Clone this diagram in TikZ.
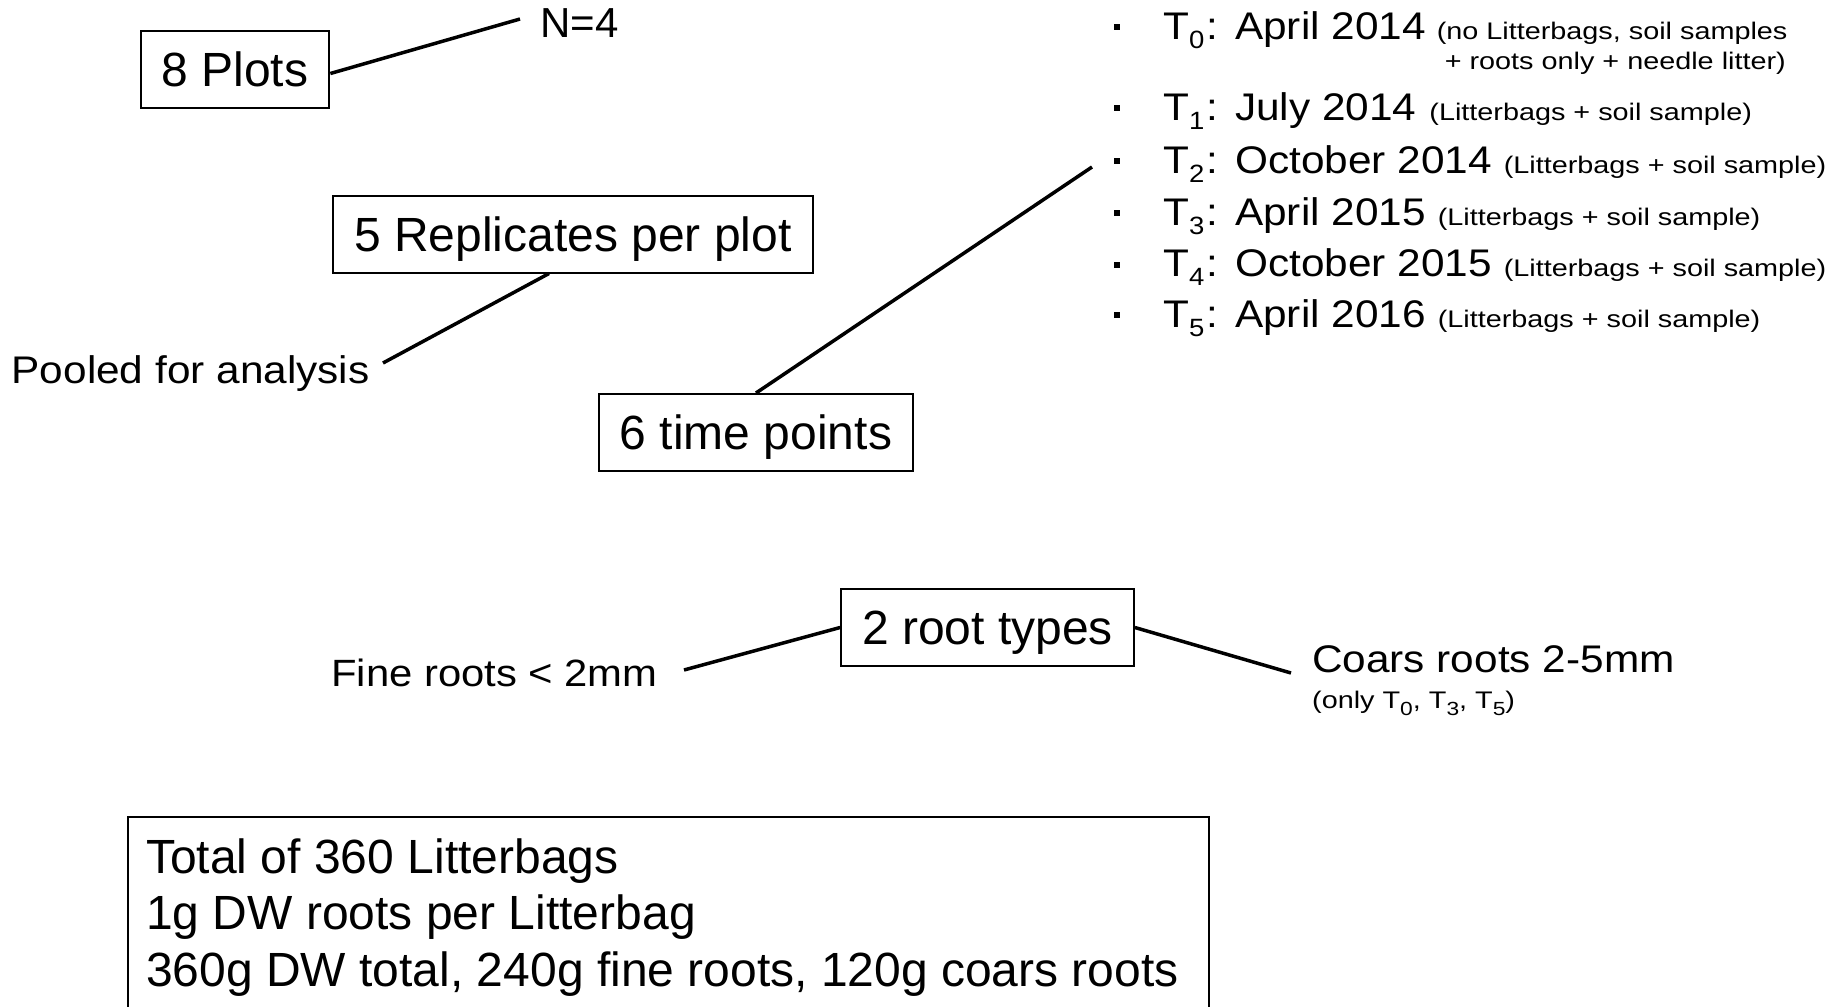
\documentclass[tikz,border=0pt]{standalone}
\usepackage{fontspec}
\setmainfont{Liberation Sans}
\newfontfamily\labfont{Liberation Sans}[FakeStretch=1.1]
\newfontfamily\smlfont{Liberation Sans}[FakeStretch=1.2]
\newcommand{\tsub}[3]{\raisebox{-#1}{\fontsize{#2}{#2}\selectfont #3}}
\newcommand{\smtext}{\smlfont\fontsize{24}{28}\selectfont}
\newcommand{\tpt}[1]{T\tsub{9pt}{25}{#1}\hspace{2pt}:\hspace{17pt}}
\begin{document}
\begin{tikzpicture}[x=1pt,y=-1pt,
  box/.style={draw,line width=2pt,minimum height=77pt,text height=34pt,text depth=0pt,inner xsep=21pt,font=\fontsize{48}{56}\selectfont},
  conn/.style={line width=3.5pt},
  lab/.style={inner sep=0pt,anchor=base west,font=\labfont\fontsize{38.5}{46}\selectfont},
  big/.style={inner sep=0pt,anchor=base west,font=\fontsize{48}{56}\selectfont},
  sml/.style={inner sep=0pt,font=\smtext},
  blt/.style={fill,draw=none,inner sep=0pt,minimum size=6pt}]
\path[use as bounding box] (0,0) rectangle (1848,1007);
\clip (0,0) rectangle (1848,1007);

% 8 plots
\node[box] (plots) at (235,69.5) {8 Plots};
\node[inner sep=0pt,anchor=base west,font=\fontsize{42}{50}\selectfont] (n4) at (540,37) {N=4};
\coordinate (n4end) at (520,19);
\draw[conn] ([yshift=-4pt]plots.east) -- (n4end);

% replicates
\node[box] (rep) at (573,234) {5 Replicates per plot};
\node[lab] (pool) at (11.5,383) {Pooled for analysis};
\coordinate (poolend) at (383,363);
\draw[conn] ([xshift=-24pt]rep.south) -- (poolend);

% time points
\node[box] (tp) at (756,432.5) {6 time points};
\coordinate (tpend) at (1092,167);
\draw[conn] (tp.north) -- (tpend);

% list of time points
\node[blt] (b0) at (1117,27) {};
\node[blt] (b1) at (1117,108) {};
\node[blt] (b2) at (1117,161) {};
\node[blt] (b3) at (1117,213) {};
\node[blt] (b4) at (1117,264.5) {};
\node[blt] (b5) at (1117,315) {};
\node[lab] (t0) at (1163,39) {\tpt{0}April 2014\hspace{11pt}{\smtext(no Litterbags, soil samples}};
\node[sml,anchor=base east] (t0b) at (1786,69) {+ roots only + needle litter)};
\node[lab] (t1) at (1163,120) {\tpt{1}July 2014\hspace{13pt}{\smtext(Litterbags + soil sample)}};
\node[lab] (t2) at (1163,173) {\tpt{2}October 2014\hspace{12pt}{\smtext(Litterbags + soil sample)}};
\node[lab] (t3) at (1163,225) {\tpt{3}April 2015\hspace{12pt}{\smtext(Litterbags + soil sample)}};
\node[lab] (t4) at (1163,276.5) {\tpt{4}October 2015\hspace{12pt}{\smtext(Litterbags + soil sample)}};
\node[lab] (t5) at (1163,327) {\tpt{5}April 2016\hspace{12pt}{\smtext(Litterbags + soil sample)}};

% root types
\node[box] (rt) at (987.5,627.5) {2 root types};
\node[lab,font=\labfont\fontsize{38}{46}\selectfont] (fine) at (331,686) {Fine roots < 2mm};
\node[lab] (coars) at (1312,672) {Coars roots 2-5mm};
\node[sml,anchor=base west] (only) at (1312,708) {(only T\tsub{7pt}{19}{0}, T\tsub{7pt}{19}{3}, T\tsub{7pt}{19}{5})};
\coordinate (fineend) at (684,670);
\coordinate (coarsend) at (1291,673);
\draw[conn] (rt.west) -- (fineend);
\draw[conn] (rt.east) -- (coarsend);

% totals
\node[draw,line width=2pt,inner sep=0pt,minimum width=1081pt,minimum height=260pt,anchor=north west] (totbox) at (127,816) {};
\node[big] (tot1) at (146,873) {Total of 360 Litterbags};
\node[big] (tot2) at (146,929.5) {1g DW roots per Litterbag};
\node[big] (tot3) at (146,986) {360g DW total, 240g fine roots, 120g coars roots};
\end{tikzpicture}
\end{document}
